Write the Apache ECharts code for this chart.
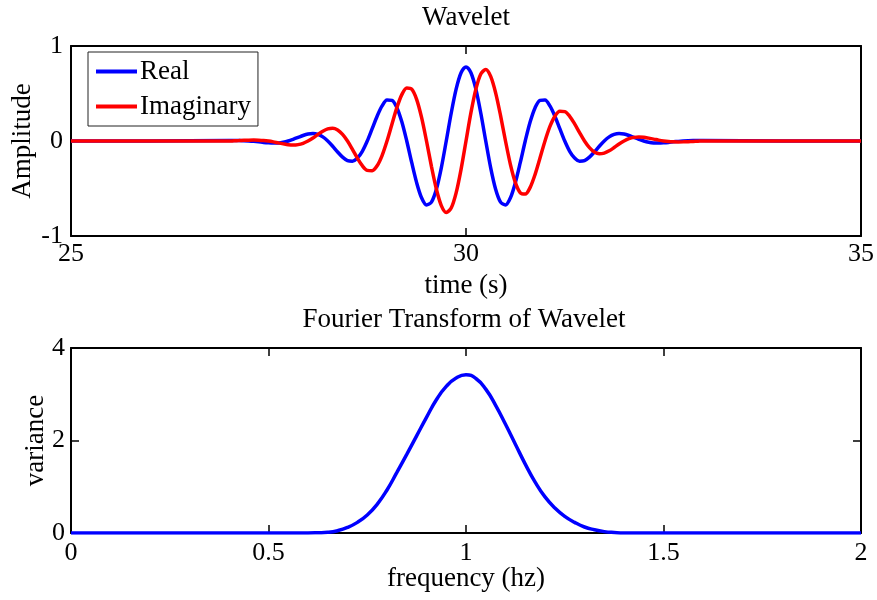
<!DOCTYPE html>
<html>
<head>
<meta charset="utf-8">
<script src="https://cdn.jsdelivr.net/npm/echarts@6/dist/echarts.min.js"></script>
<style>html,body{margin:0;padding:0;background:#fff;}#chart{width:877px;height:600px;}</style>
</head>
<body>
<div id="chart"></div>
<script>
// ---- data ----
var timeS = [25, 26,
  27, 27.0625, 27.125, 27.1875, 27.25, 27.3125, 27.375, 27.4375, 27.5, 27.5625, 27.625, 27.6875, 27.75, 27.8125, 27.875, 27.9375,
  28, 28.0625, 28.125, 28.1875, 28.25, 28.3125, 28.375, 28.4375, 28.5, 28.5625, 28.625, 28.6875, 28.75, 28.8125, 28.875, 28.9375,
  29, 29.0625, 29.125, 29.1875, 29.25, 29.3125, 29.375, 29.4375, 29.5, 29.5625, 29.625, 29.6875, 29.75, 29.8125, 29.875, 29.9375,
  30, 30.0625, 30.125, 30.1875, 30.25, 30.3125, 30.375, 30.4375, 30.5, 30.5625, 30.625, 30.6875, 30.75, 30.8125, 30.875, 30.9375,
  31, 31.0625, 31.125, 31.1875, 31.25, 31.3125, 31.375, 31.4375, 31.5, 31.5625, 31.625, 31.6875, 31.75, 31.8125, 31.875, 31.9375,
  32, 32.0625, 32.125, 32.1875, 32.25, 32.3125, 32.375, 32.4375, 32.5, 32.5625, 32.625, 32.6875, 32.75, 32.8125, 32.875, 32.9375,
  33, 34, 35];
var realPart = [0, 0,
  0.004, 0.004, 0.004, 0.003, 0, -0.004, -0.009, -0.015, -0.019, -0.021, -0.020, -0.013, 0, 0.018, 0.038, 0.058,
  0.073, 0.078, 0.069, 0.043, 0, -0.055, -0.116, -0.170, -0.206, -0.212, -0.180, -0.108, 0, 0.130, 0.261, 0.369,
  0.432, 0.428, 0.351, 0.202, 0, -0.226, -0.438, -0.598, -0.673, -0.643, -0.507, -0.282, 0, 0.292, 0.546, 0.719,
  0.780, 0.719, 0.546, 0.292, 0, -0.282, -0.507, -0.643, -0.673, -0.598, -0.438, -0.226, 0, 0.202, 0.351, 0.428,
  0.432, 0.369, 0.261, 0.130, 0, -0.108, -0.180, -0.212, -0.206, -0.170, -0.116, -0.055, 0, 0.043, 0.069, 0.078,
  0.073, 0.058, 0.038, 0.018, 0, -0.013, -0.020, -0.021, -0.019, -0.015, -0.009, -0.004, 0, 0.003, 0.004, 0.004,
  0.004, 0, 0];
var imagPart = [0, 0,
  0, 0.002, 0.004, 0.007, 0.009, 0.010, 0.009, 0.006, 0, -0.009, -0.020, -0.030, -0.039, -0.043, -0.038, -0.024,
  0, 0.032, 0.069, 0.103, 0.127, 0.134, 0.116, 0.070, 0, -0.088, -0.180, -0.260, -0.309, -0.313, -0.261, -0.153,
  0, 0.177, 0.351, 0.488, 0.559, 0.545, 0.438, 0.248, 0, -0.267, -0.507, -0.680, -0.752, -0.706, -0.546, -0.298,
  0, 0.298, 0.546, 0.706, 0.752, 0.680, 0.507, 0.267, 0, -0.248, -0.438, -0.545, -0.559, -0.488, -0.351, -0.177,
  0, 0.153, 0.261, 0.313, 0.309, 0.260, 0.180, 0.088, 0, -0.070, -0.116, -0.134, -0.127, -0.103, -0.069, -0.032,
  0, 0.024, 0.038, 0.043, 0.039, 0.030, 0.020, 0.009, 0, -0.006, -0.009, -0.010, -0.009, -0.007, -0.004, -0.002,
  0, 0, 0];
var freqHz = [0, 0.6, 0.625, 0.65, 0.675, 0.7, 0.725, 0.75, 0.775, 0.8, 0.825, 0.85, 0.875, 0.9, 0.925, 0.95, 0.975,
  1.0, 1.025, 1.05, 1.075, 1.1, 1.125, 1.15, 1.175, 1.2, 1.225, 1.25, 1.275, 1.3, 1.325, 1.35, 1.375, 1.4, 2.0];
var varianceVals = [0, 0, 0.005, 0.015, 0.05, 0.12, 0.23, 0.39, 0.62, 0.93, 1.31, 1.70, 2.10, 2.50, 2.88, 3.17, 3.35,
  3.42, 3.34, 3.11, 2.76, 2.35, 1.92, 1.49, 1.10, 0.78, 0.54, 0.36, 0.23, 0.13, 0.07, 0.03, 0.01, 0, 0];
var seriesNames = ['Real', 'Imaginary'];
var titles = ['Wavelet', 'Fourier Transform of Wavelet'];

function pairs(xs, ys) { return xs.map(function (x, i) { return [x, ys[i]]; }); }

var FONT = '"Liberation Serif", "Times New Roman", serif';

function axisBase(extra) {
  var o = {
    type: 'value',
    axisLine: { show: true, onZero: false, lineStyle: { color: '#000', width: 2 } },
    axisTick: { show: true, inside: true, length: 8, lineStyle: { color: '#000', width: 1.5 } },
    axisLabel: { show: true, fontFamily: FONT, color: '#000', fontSize: 26 },
    splitLine: { show: false },
    nameTextStyle: { fontFamily: FONT, color: '#000', fontSize: 27 },
    nameLocation: 'middle',
    nameMoveOverlap: false
  };
  for (var k in extra) o[k] = extra[k];
  return o;
}
function mirror(extra) {
  var o = axisBase(extra);
  o.axisLabel = { show: false };
  return o;
}

var chart = echarts.init(document.getElementById('chart'), null, { renderer: 'canvas' });
chart.setOption({
  animation: false,
  backgroundColor: '#fff',
  title: [
    { text: titles[0], left: 466, top: 4, textAlign: 'center', padding: 0,
      textStyle: { fontFamily: FONT, color: '#000', fontSize: 27, fontWeight: 'normal' } },
    { text: titles[1], left: 464, top: 306, textAlign: 'center', padding: 0,
      textStyle: { fontFamily: FONT, color: '#000', fontSize: 27, fontWeight: 'normal' } }
  ],
  legend: {
    data: seriesNames,
    orient: 'vertical',
    left: 88, top: 52,
    padding: [6, 7, 6, 8],
    itemGap: 8,
    icon: 'rect',
    itemWidth: 41, itemHeight: 4,
    backgroundColor: '#fff',
    borderColor: '#222', borderWidth: 1,
    textStyle: { fontFamily: FONT, color: '#000', fontSize: 27, padding: [0, 0, 0, -2] }
  },
  grid: [
    { left: 71, top: 46, width: 790, height: 190, containLabel: false, outerBoundsMode: 'none' },
    { left: 71, top: 348, width: 790, height: 185, containLabel: false, outerBoundsMode: 'none' }
  ],
  xAxis: [
    axisBase({ gridIndex: 0, min: 25, max: 35, interval: 5, position: 'bottom', name: 'time (s)', nameGap: 36,
      axisLabel: { fontFamily: FONT, color: '#000', fontSize: 26, margin: 5 } }),
    mirror({ gridIndex: 0, min: 25, max: 35, interval: 5, position: 'top' }),
    axisBase({ gridIndex: 1, min: 0, max: 2, interval: 0.5, position: 'bottom', name: 'frequency (hz)', nameGap: 32,
      axisLabel: { fontFamily: FONT, color: '#000', fontSize: 26, margin: 7 } }),
    mirror({ gridIndex: 1, min: 0, max: 2, interval: 0.5, position: 'top' })
  ],
  yAxis: [
    axisBase({ gridIndex: 0, min: -1, max: 1, interval: 1, position: 'left', name: 'Amplitude', nameGap: 35,
      axisLabel: { fontFamily: FONT, color: '#000', fontSize: 26, margin: 8 } }),
    mirror({ gridIndex: 0, min: -1, max: 1, interval: 1, position: 'right' }),
    axisBase({ gridIndex: 1, min: 0, max: 4, interval: 2, position: 'left', name: 'variance', nameGap: 22,
      axisLabel: { fontFamily: FONT, color: '#000', fontSize: 26, margin: 6 } }),
    mirror({ gridIndex: 1, min: 0, max: 4, interval: 2, position: 'right' })
  ],
  series: [
    { name: seriesNames[0], type: 'line', xAxisIndex: 0, yAxisIndex: 0, data: pairs(timeS, realPart),
      smooth: 0.3, symbol: 'none', lineStyle: { color: '#0000ff', width: 3.5 }, itemStyle: { color: '#0000ff' } },
    { name: seriesNames[1], type: 'line', xAxisIndex: 0, yAxisIndex: 0, data: pairs(timeS, imagPart),
      smooth: 0.3, symbol: 'none', lineStyle: { color: '#ff0000', width: 3.5 }, itemStyle: { color: '#ff0000' } },
    { name: 'FT', type: 'line', xAxisIndex: 2, yAxisIndex: 2, data: pairs(freqHz, varianceVals),
      smooth: 0.5, symbol: 'none', lineStyle: { color: '#0000ff', width: 3.5 }, itemStyle: { color: '#0000ff' } }
  ]
});
</script>
</body>
</html>
